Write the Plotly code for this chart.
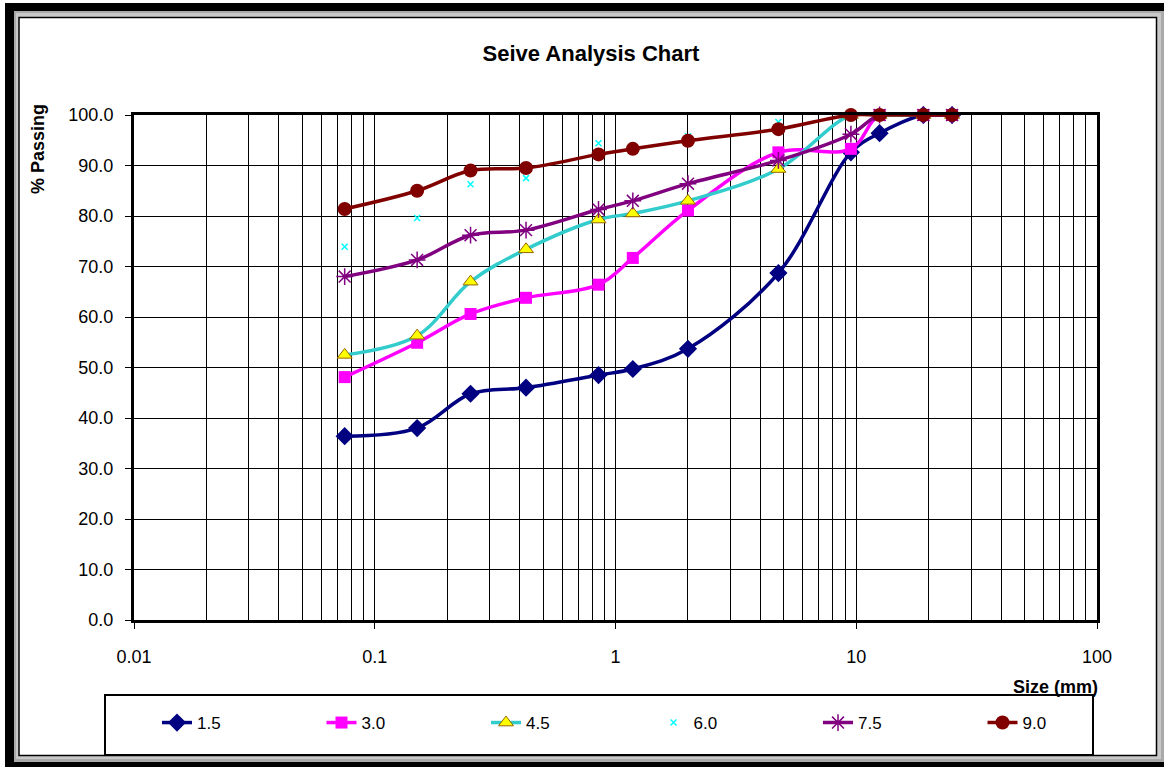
import plotly.graph_objects as go

# Sieve sizes (mm) and percent passing for each sample
sizes = [0.075, 0.15, 0.25, 0.425, 0.85, 1.18, 2.0, 4.75, 9.5, 12.5, 19, 25]
s_1_5 = [36.4, 38.0, 44.8, 46.0, 48.5, 49.7, 53.7, 68.7, 92.6, 96.4, 100.0, 100.0]
s_3_0 = [48.1, 54.9, 60.6, 63.8, 66.4, 71.7, 81.1, 92.6, 93.3, 100.0, 100.0, 100.0]
s_4_5 = [52.5, 56.3, 67.0, 73.4, 79.3, 80.5, 83.0, 89.3, 100.0, 100.0, 100.0, 100.0]
s_6_0 = [73.9, 79.6, 86.3, 87.5, 94.4, 93.8, 95.8, 98.6, 100.0, 100.0, 100.0, 100.0]
s_7_5 = [68.0, 71.3, 76.2, 77.2, 81.3, 83.0, 86.4, 91.0, 96.2, 100.0, 100.0, 100.0]
s_9_0 = [81.4, 85.0, 89.0, 89.5, 92.2, 93.3, 94.9, 97.2, 100.0, 100.0, 100.0, 100.0]

x_major = [0.01, 0.1, 1, 10, 100]
x_major_text = ["0.01", "0.1", "1", "10", "100"]
x_minor = [m * d for d in [0.01, 0.1, 1, 10] for m in range(2, 10)]

# plot-area geometry in pixels
FW, FH = 1164, 767
L, R, T, B = 134, 1097, 115, 620
W, H = R - L, B - T


def px(x):
    return (x - L) / W


def py(y):
    return (B - y) / H


FONT = "Liberation Sans, Arial, sans-serif"

fig = go.Figure()

line_w = 3.5
fig.add_trace(go.Scatter(
    x=sizes, y=s_1_5, name="1.5", mode="lines+markers",
    line=dict(color="#000080", width=line_w, shape="spline"),
    marker=dict(symbol="diamond", size=14, color="#000080"),
    cliponaxis=False, legend="legend"))
fig.add_trace(go.Scatter(
    x=sizes, y=s_3_0, name="3.0", mode="lines+markers",
    line=dict(color="#FF00FF", width=line_w, shape="spline"),
    marker=dict(symbol="square", size=12, color="#FF00FF"),
    cliponaxis=False, legend="legend"))
fig.add_trace(go.Scatter(
    x=sizes, y=s_4_5, name="4.5", mode="lines+markers",
    line=dict(color="#33CCCC", width=line_w, shape="spline"),
    marker=dict(symbol="triangle-up", size=13, color="#FFFF00",
                line=dict(color="#996600", width=1)),
    cliponaxis=False, legend="legend"))
fig.add_trace(go.Scatter(
    x=sizes, y=s_6_0, name="6.0", mode="markers",
    marker=dict(symbol="x-thin", size=6, color="#00FFFF",
                line=dict(color="#00FFFF", width=1.5)),
    cliponaxis=False, legend="legend2"))
fig.add_trace(go.Scatter(
    x=sizes, y=s_7_5, name="7.5", mode="lines+markers",
    line=dict(color="#800080", width=line_w, shape="spline"),
    marker=dict(symbol="asterisk-open", size=14, color="#800080",
                line=dict(color="#800080", width=1.5)),
    cliponaxis=False, legend="legend2"))
fig.add_trace(go.Scatter(
    x=sizes, y=s_9_0, name="9.0", mode="lines+markers",
    line=dict(color="#800000", width=line_w, shape="spline"),
    marker=dict(symbol="circle", size=14, color="#800000"),
    cliponaxis=False, legend="legend2"))

shapes = [
    # outer dark frame
    dict(type="rect", xref="paper", yref="paper",
         x0=px(5), x1=px(FW + 10), y0=py(3), y1=py(FH + 10),
         fillcolor="#000000", line=dict(width=0), layer="below"),
    # bevel band
    dict(type="rect", xref="paper", yref="paper",
         x0=px(14), x1=px(FW + 10), y0=py(11), y1=py(762),
         fillcolor="#a9a9a9", line=dict(width=0), layer="below"),
    dict(type="rect", xref="paper", yref="paper",
         x0=px(16), x1=px(1161), y0=py(13), y1=py(759),
         fillcolor="#c8c8c8", line=dict(width=0), layer="below"),
    # chart area
    dict(type="rect", xref="paper", yref="paper",
         x0=px(19), x1=px(1156.5), y0=py(17.5), y1=py(755.5),
         fillcolor="#ffffff", line=dict(color="#000000", width=1.5), layer="below"),
    # legend box
    dict(type="rect", xref="paper", yref="paper",
         x0=px(105), x1=px(1093), y0=py(695), y1=py(755),
         fillcolor="#ffffff", line=dict(color="#000000", width=2), layer="below"),
]

annotations = [
    dict(text="Size (mm)", xref="paper", yref="paper", x=px(1100), y=py(687),
         xanchor="right", yanchor="middle", showarrow=False,
         font=dict(family=FONT, size=18, color="#000000", weight="bold")),
    dict(text="% Passing", xref="paper", yref="paper", x=px(38), y=py(149),
         xanchor="center", yanchor="middle", showarrow=False, textangle=-90,
         font=dict(family=FONT, size=18, color="#000000", weight="bold")),
]

ENTRY = 165.5  # horizontal pitch of legend entries, px
LEG_X0 = 157   # left edge of the first legend entry, px
legend_style = dict(orientation="h", yanchor="middle", xanchor="left",
                    bgcolor="rgba(0,0,0,0)", borderwidth=0,
                    entrywidth=ENTRY - 46, entrywidthmode="pixels",
                    font=dict(family=FONT, size=17, color="#000000"),
                    itemsizing="trace", traceorder="normal")

fig.update_layout(
    width=FW, height=FH, autosize=False,
    margin=dict(l=L, r=FW - R, t=T, b=FH - B, pad=0),
    paper_bgcolor="#ffffff", plot_bgcolor="#ffffff",
    font=dict(family=FONT, color="#000000"),
    title=dict(text="Seive Analysis Chart", x=591 / FW, xanchor="center",
               y=1 - 53 / FH, yanchor="middle",
               font=dict(family=FONT, size=22, color="#000000", weight="bold")),
    shapes=shapes,
    annotations=annotations,
    showlegend=True,
    legend=dict(x=px(LEG_X0), y=py(723), **legend_style),
    legend2=dict(x=px(LEG_X0 + 3 * ENTRY), y=py(723), **legend_style),
)

fig.update_xaxes(
    type="log", range=[-2, 2],
    tickmode="array", tickvals=x_major, ticktext=x_major_text,
    ticks="outside", ticklen=6, tickwidth=1, tickcolor="#000000",
    ticklabelstandoff=12,
    tickfont=dict(family=FONT, size=18, color="#000000"),
    showgrid=True, gridcolor="#000000", gridwidth=1,
    minor=dict(tickmode="array", tickvals=x_minor, showgrid=True,
               gridcolor="#000000", gridwidth=1, ticks=""),
    showline=True, linecolor="#000000", linewidth=3, mirror=True,
    zeroline=False,
)
fig.update_yaxes(
    range=[0, 100], dtick=10, tick0=0, tickformat=".1f",
    ticks="outside", ticklen=6, tickwidth=1, tickcolor="#000000",
    ticklabelstandoff=8,
    tickfont=dict(family=FONT, size=18, color="#000000"),
    showgrid=True, gridcolor="#000000", gridwidth=1,
    showline=True, linecolor="#000000", linewidth=3, mirror=True,
    zeroline=False,
)

fig.write_html("out.html")
